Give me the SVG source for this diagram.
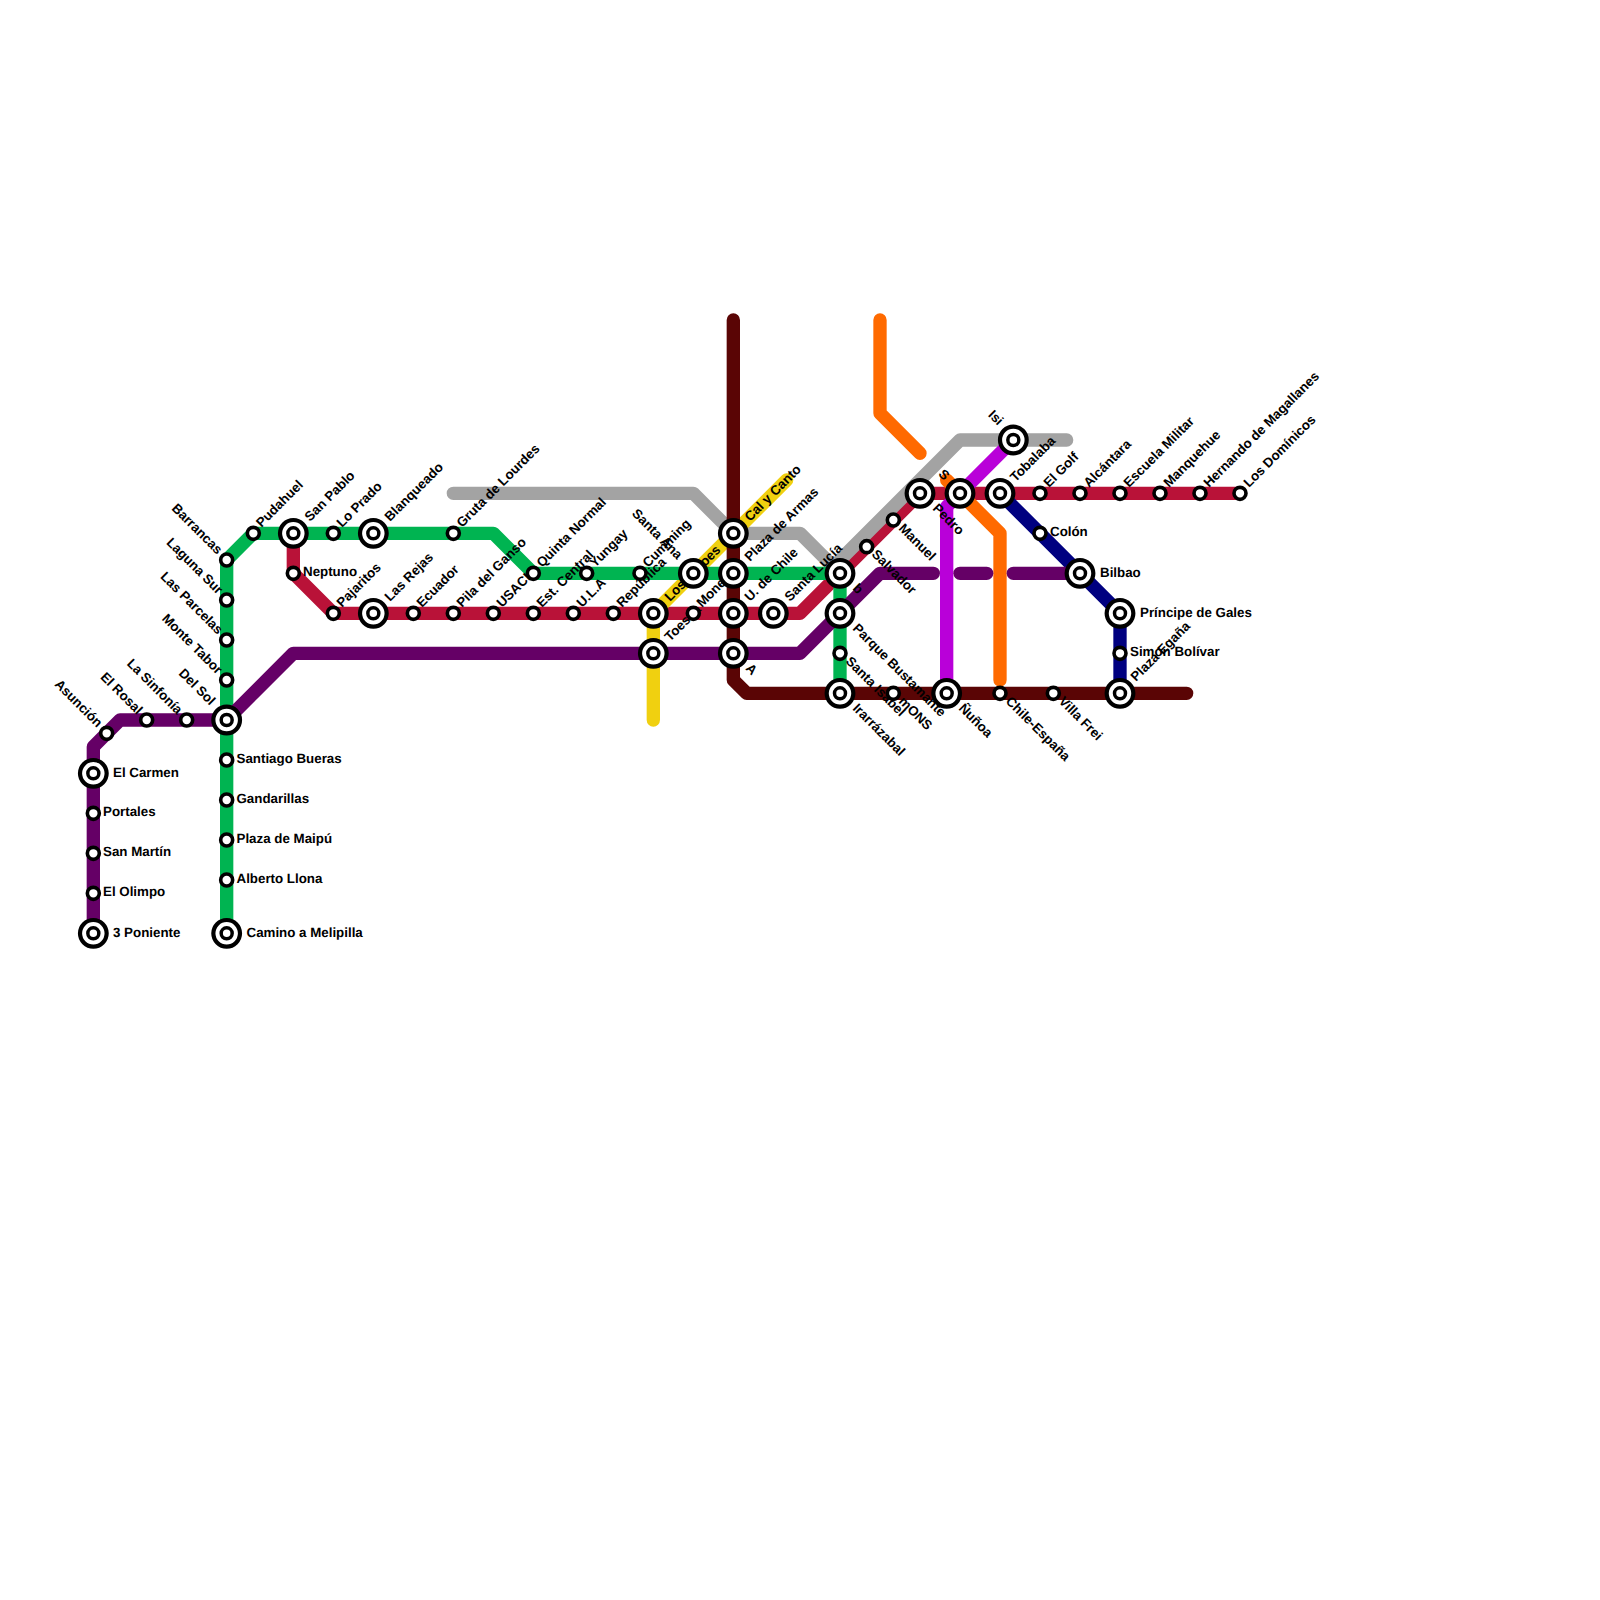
<svg xmlns="http://www.w3.org/2000/svg" xmlns:xlink="http://www.w3.org/1999/xlink" width="1600" height="1600" viewBox="0 0 1600 1600">
<style>
.l{fill:none;stroke-width:13.33;stroke-linecap:round;stroke-linejoin:round}
text{font-family:"Liberation Sans",Arial,sans-serif;font-size:13.33px;font-weight:bold;fill:#000;text-rendering:geometricPrecision}
.e{text-anchor:end}
</style>
<defs>
<g id="ix"><circle r="13.33" fill="#fff" stroke="#000" stroke-width="4.2"/><circle r="5.5" fill="#fff" stroke="#000" stroke-width="3.5"/></g>
<g id="st"><circle r="6" fill="#fff" stroke="#000" stroke-width="3.6"/></g>
</defs>
<rect width="1600" height="1600" fill="#fff"/>
<g id="connectors">
<path class="l" stroke="#b91238" d="M293.33 533.33V573.33L333.33 613.33H800L920 493.33H1240"/>
<path class="l" stroke="#a3a3a3" d="M453.33 493.33H693.33L733.33 533.33H800L840 573.33V560L960 440H1066.67"/>
<path class="l" stroke="#f0d010" d="M653.33 720V613.33L786.67 480"/>
<path class="l" stroke="#ff6a00" d="M880 320V413.33L920 453.33"/>
<path class="l" stroke="#ff6a00" d="M946.67 480L1000 533.33V680"/>
<path class="l" stroke="#b900d9" d="M946.67 680V506.67L1013.33 440"/>
<path class="l" stroke="#000080" d="M1000 493.33L1120 613.33V693.33"/>
<path class="l" stroke="#5a0505" d="M733.33 320V680L746.67 693.33H1186.67"/>
<path class="l" stroke="#00b451" d="M226.67 933.33V560L253.33 533.33H493.33L533.33 573.33H840V693.33"/>
<path class="l" stroke="#650066" d="M93.33 933.33V746.67L120 720H226.67L293.33 653.33H800L880 573.33H933.33"/>
<path class="l" stroke="#650066" d="M960 573.33H986.67"/>
<path class="l" stroke="#650066" d="M1013.33 573.33H1080"/>
</g>
<g id="n-el-carmen"><text x="113" y="776.5">El Carmen</text><use href="#ix" x="93.33" y="773.33"/></g>
<g id="n-portales"><text x="103" y="816">Portales</text><use href="#st" x="93.33" y="813.33"/></g>
<g id="n-san-martin"><text x="103" y="856">San Martín</text><use href="#st" x="93.33" y="853.33"/></g>
<g id="n-el-olimpo"><text x="103" y="896">El Olimpo</text><use href="#st" x="93.33" y="893.33"/></g>
<g id="n-3-poniente"><text x="113" y="936.5">3 Poniente</text><use href="#ix" x="93.33" y="933.33"/></g>
<g id="n-asuncion"><text class="e" transform="rotate(45 97 728)" x="97" y="728">Asunción</text><use href="#st" x="106.67" y="733.33"/></g>
<g id="n-el-rosal"><text class="e" transform="rotate(45 137 715)" x="137" y="715">El Rosal</text><use href="#st" x="146.67" y="720"/></g>
<g id="n-la-sinfonia"><text class="e" transform="rotate(45 177 715)" x="177" y="715">La Sinfonía</text><use href="#st" x="186.67" y="720"/></g>
<g id="n-del-sol"><text class="e" transform="rotate(45 210 706)" x="210" y="706">Del Sol</text><use href="#ix" x="226.67" y="720"/></g>
<g id="n-barrancas"><text class="e" transform="rotate(45 217 555)" x="217" y="555">Barrancas</text><use href="#st" x="226.67" y="560"/></g>
<g id="n-laguna-sur"><text class="e" transform="rotate(45 217.5 595)" x="217.5" y="595">Laguna Sur</text><use href="#st" x="226.67" y="600"/></g>
<g id="n-las-parcelas"><text class="e" transform="rotate(45 217.5 635)" x="217.5" y="635">Las Parcelas</text><use href="#st" x="226.67" y="640"/></g>
<g id="n-monte-tabor"><text class="e" transform="rotate(45 217 675)" x="217" y="675">Monte Tabor</text><use href="#st" x="226.67" y="680"/></g>
<g id="n-santiago-bueras"><text x="236.5" y="763">Santiago Bueras</text><use href="#st" x="226.67" y="760"/></g>
<g id="n-gandarillas"><text x="236.5" y="803">Gandarillas</text><use href="#st" x="226.67" y="800"/></g>
<g id="n-plaza-de-maipu"><text x="236.5" y="843">Plaza de Maipú</text><use href="#st" x="226.67" y="840"/></g>
<g id="n-alberto-llona"><text x="236.5" y="883">Alberto Llona</text><use href="#st" x="226.67" y="880"/></g>
<g id="n-camino-a-melipilla"><text x="246.5" y="936.5">Camino a Melipilla</text><use href="#ix" x="226.67" y="933.33"/></g>
<g id="n-pudahuel"><text transform="rotate(-45 261.5 528)" x="261.5" y="528">Pudahuel</text><use href="#st" x="253.33" y="533.33"/></g>
<g id="n-san-pablo"><text transform="rotate(-45 310 522)" x="310" y="522">San Pablo</text><use href="#ix" x="293.33" y="533.33"/></g>
<g id="n-neptuno"><text x="303" y="576">Neptuno</text><use href="#st" x="293.33" y="573.33"/></g>
<g id="n-lo-prado"><text transform="rotate(-45 342 528)" x="342" y="528">Lo Prado</text><use href="#st" x="333.33" y="533.33"/></g>
<g id="n-pajaritos"><text transform="rotate(-45 342 608)" x="342" y="608">Pajaritos</text><use href="#st" x="333.33" y="613.33"/></g>
<g id="n-blanqueado"><text transform="rotate(-45 390 522)" x="390" y="522">Blanqueado</text><use href="#ix" x="373.33" y="533.33"/></g>
<g id="n-las-rejas"><text transform="rotate(-45 390 602)" x="390" y="602">Las Rejas</text><use href="#ix" x="373.33" y="613.33"/></g>
<g id="n-ecuador"><text transform="rotate(-45 422 608)" x="422" y="608">Ecuador</text><use href="#st" x="413.33" y="613.33"/></g>
<g id="n-gruta-de-lourdes"><text transform="rotate(-45 462 528)" x="462" y="528">Gruta de Lourdes</text><use href="#st" x="453.33" y="533.33"/></g>
<g id="n-pila-del-ganso"><text transform="rotate(-45 462 608)" x="462" y="608">Pila del Ganso</text><use href="#st" x="453.33" y="613.33"/></g>
<g id="n-usach"><text transform="rotate(-45 502 608)" x="502" y="608">USACH</text><use href="#st" x="493.33" y="613.33"/></g>
<g id="n-quinta-normal"><text transform="rotate(-45 542 568)" x="542" y="568">Quinta Normal</text><use href="#st" x="533.33" y="573.33"/></g>
<g id="n-est-central"><text transform="rotate(-45 542 608)" x="542" y="608">Est. Central</text><use href="#st" x="533.33" y="613.33"/></g>
<g id="n-ula"><text transform="rotate(-45 582 608)" x="582" y="608">U.L.A</text><use href="#st" x="573.33" y="613.33"/></g>
<g id="n-yungay"><text transform="rotate(-45 595 568)" x="595" y="568">Yungay</text><use href="#st" x="586.67" y="573.33"/></g>
<g id="n-republica"><text transform="rotate(-45 622 608)" x="622" y="608">República</text><use href="#st" x="613.33" y="613.33"/></g>
<g id="n-cumming"><text transform="rotate(-45 648 568)" x="648" y="568">Cumming</text><use href="#st" x="640" y="573.33"/></g>
<g id="n-toesca"><text transform="rotate(-45 670 642)" x="670" y="642">Toesca</text><use href="#ix" x="653.33" y="653.33"/></g>
<g id="n-los-heroes"><text transform="rotate(-45 670 602)" x="670" y="602">Los Héroes</text><use href="#ix" x="653.33" y="613.33"/></g>
<g id="n-santa-ana"><text class="e" transform="rotate(45 677 560)" x="677" y="560">Santa Ana</text><use href="#ix" x="693.33" y="573.33"/></g>
<g id="n-moneda"><text transform="rotate(-45 702 608)" x="702" y="608">Moneda</text><use href="#st" x="693.33" y="613.33"/></g>
<g id="n-cal-y-canto"><text transform="rotate(-45 750 522)" x="750" y="522">Cal y Canto</text><use href="#ix" x="733.33" y="533.33"/></g>
<g id="n-plaza-de-armas"><text transform="rotate(-45 750 562)" x="750" y="562">Plaza de Armas</text><use href="#ix" x="733.33" y="573.33"/></g>
<g id="n-u-de-chile"><text transform="rotate(-45 750 602)" x="750" y="602">U. de Chile</text><use href="#ix" x="733.33" y="613.33"/></g>
<g id="n-a"><text transform="rotate(45 745 669)" x="745" y="669">A</text><use href="#ix" x="733.33" y="653.33"/></g>
<g id="n-santa-lucia"><text transform="rotate(-45 790 602)" x="790" y="602">Santa Lucía</text><use href="#ix" x="773.33" y="613.33"/></g>
<g id="n-b"><text transform="rotate(45 852 589)" x="852" y="589">b</text><use href="#ix" x="840" y="573.33"/></g>
<g id="n-parque-bustamante"><text transform="rotate(45 852 629)" x="852" y="629">Parque Bustamante</text><use href="#ix" x="840" y="613.33"/></g>
<g id="n-santa-isabel"><text transform="rotate(45 845 662)" x="845" y="662">Santa Isabel</text><use href="#st" x="840" y="653.33"/></g>
<g id="n-irarrazabal"><text transform="rotate(45 852 709)" x="852" y="709">Irarrázabal</text><use href="#ix" x="840" y="693.33"/></g>
<g id="n-salvador"><text transform="rotate(45 871 555)" x="871" y="555">Salvador</text><use href="#st" x="866.67" y="546.67"/></g>
<g id="n-manuel"><text transform="rotate(45 898 529)" x="898" y="529">Manuel</text><use href="#st" x="893.33" y="520"/></g>
<g id="n-mons"><text transform="rotate(45 898 702)" x="898" y="702">mONS</text><use href="#st" x="893.33" y="693.33"/></g>
<g id="n-pedro"><text transform="rotate(45 932 509)" x="932" y="509">Pedro</text><use href="#ix" x="920" y="493.33"/></g>
<g id="n-nunoa"><text transform="rotate(45 958 709)" x="958" y="709">Ñuñoa</text><use href="#ix" x="946.67" y="693.33"/></g>
<g id="n-s"><text class="e" transform="rotate(45 944 481)" x="944" y="481">S</text><use href="#ix" x="960" y="493.33"/></g>
<g id="n-chile-espana"><text transform="rotate(45 1005 702)" x="1005" y="702">Chile-España</text><use href="#st" x="1000" y="693.33"/></g>
<g id="n-tobalaba"><text transform="rotate(-45 1015.5 482.5)" x="1015.5" y="482.5">Tobalaba</text><use href="#ix" x="1000" y="493.33"/></g>
<g id="n-isi"><text class="e" transform="rotate(45 998 426)" x="998" y="426">Isi</text><use href="#ix" x="1013.33" y="440"/></g>
<g id="n-colon"><text x="1050" y="536">Colón</text><use href="#st" x="1040" y="533.33"/></g>
<g id="n-el-golf"><text transform="rotate(-45 1049 488)" x="1049" y="488">El Golf</text><use href="#st" x="1040" y="493.33"/></g>
<g id="n-villa-frei"><text transform="rotate(45 1058 702)" x="1058" y="702">Villa Frei</text><use href="#st" x="1053.33" y="693.33"/></g>
<g id="n-bilbao"><text x="1100" y="576.5">Bilbao</text><use href="#ix" x="1080" y="573.33"/></g>
<g id="n-alcantara"><text transform="rotate(-45 1089 488)" x="1089" y="488">Alcántara</text><use href="#st" x="1080" y="493.33"/></g>
<g id="n-escuela-militar"><text transform="rotate(-45 1129 488)" x="1129" y="488">Escuela Militar</text><use href="#st" x="1120" y="493.33"/></g>
<g id="n-principe-de-gales"><text x="1140" y="616.5">Príncipe de Gales</text><use href="#ix" x="1120" y="613.33"/></g>
<g id="n-simon-bolivar"><text x="1130" y="656">Simón Bolívar</text><use href="#st" x="1120" y="653.33"/></g>
<g id="n-plaza-egana"><text transform="rotate(-45 1136 682)" x="1136" y="682">Plaza Egaña</text><use href="#ix" x="1120" y="693.33"/></g>
<g id="n-manquehue"><text transform="rotate(-45 1169 488)" x="1169" y="488">Manquehue</text><use href="#st" x="1160" y="493.33"/></g>
<g id="n-hernando"><text transform="rotate(-45 1209 488)" x="1209" y="488">Hernando de Magallanes</text><use href="#st" x="1200" y="493.33"/></g>
<g id="n-los-dominicos"><text transform="rotate(-45 1249 488)" x="1249" y="488">Los Domínicos</text><use href="#st" x="1240" y="493.33"/></g>
</svg>
